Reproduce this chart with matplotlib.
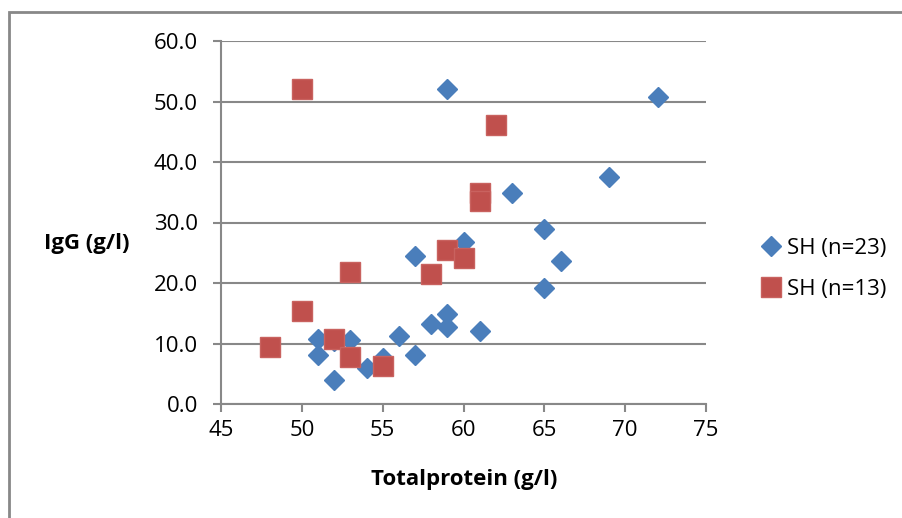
import matplotlib.pyplot as plt
from matplotlib.patches import Rectangle

# SH (n=23) - blue diamonds
blue_x = [59, 72, 69, 63, 65, 60, 57, 66, 65, 59, 58, 59, 61, 56, 51, 53, 51, 57, 55, 54, 52, 52, 61]
blue_y = [52.0, 50.7, 37.6, 34.8, 28.9, 26.8, 24.4, 23.7, 19.1, 14.9, 13.3, 12.7, 12.0, 11.3,
          10.8, 10.6, 8.1, 8.1, 7.6, 6.0, 3.9, 10.4, 34.0]

# SH (n=13) - red squares
red_x = [50, 62, 61, 61, 59, 60, 53, 58, 50, 52, 48, 53, 55]
red_y = [52.1, 46.1, 34.9, 33.5, 25.4, 24.2, 21.8, 21.5, 15.3, 10.8, 9.4, 7.8, 6.2]

x_ticks = [45, 50, 55, 60, 65, 70, 75]
y_ticks = [0, 10, 20, 30, 40, 50, 60]

plt.rcParams['font.family'] = ['Open Sans', 'DejaVu Sans']
FS = 16

W, H = 902, 518
fig = plt.figure(figsize=(W / 100, H / 100), dpi=100)
ax = fig.add_axes([221 / W, 1 - 404 / H, (706 - 221) / W, (404 - 41) / H])

# chart area border (left and top edges visible)
fig.patches.append(Rectangle((9 / W, -0.05), 1.0, 1 - 12 / H + 0.05,
                             transform=fig.transFigure, fill=False,
                             edgecolor='#888888', linewidth=2))

ax.plot(blue_x, blue_y, linestyle='none', marker='D', markersize=10.5,
        color='#4a7ebb', markeredgecolor='#4a7ebb', label='SH (n=23)', zorder=3)
ax.plot(red_x, red_y, linestyle='none', marker='s', markersize=14,
        color='#c0504d', markeredgecolor='#c9625f', label='SH (n=13)', zorder=3)

ax.set_xlim(45, 75)
ax.set_ylim(0, 60)
ax.set_xticks(x_ticks)
ax.set_yticks(y_ticks)
ax.set_yticklabels([f'{v:.1f}' for v in y_ticks])
ax.yaxis.grid(True, color='#888888', linewidth=1.5)
ax.set_axisbelow(True)

for s in ['top', 'right']:
    ax.spines[s].set_visible(False)
for s in ['left', 'bottom']:
    ax.spines[s].set_color('#888888')
    ax.spines[s].set_linewidth(1.5)
ax.tick_params(colors='#888888', length=5.5, width=1.5, labelsize=FS, labelcolor='black')
ax.tick_params(axis='y', pad=11)
ax.tick_params(axis='x', pad=6)

ax.set_xlabel('Totalprotein (g/l)', fontsize=FS, fontweight='bold')
ax.xaxis.set_label_coords((464 - 221) / 485, (404 - 480) / 363)
ax.xaxis.label.set_va('center')
ax.set_ylabel('IgG (g/l)', fontsize=FS, fontweight='bold', rotation=0, ha='right', va='center')
ax.yaxis.set_label_coords((130 - 221) / 485, (404 - 244) / 363)

leg = ax.legend(loc='center left', bbox_to_anchor=((760 - 221) / 485, (404 - 269) / 363),
                frameon=False, fontsize=FS, handlelength=1.0, handletextpad=0.2,
                labelspacing=0.9, borderaxespad=0, borderpad=0)

fig.savefig('out.png', dpi=100)
